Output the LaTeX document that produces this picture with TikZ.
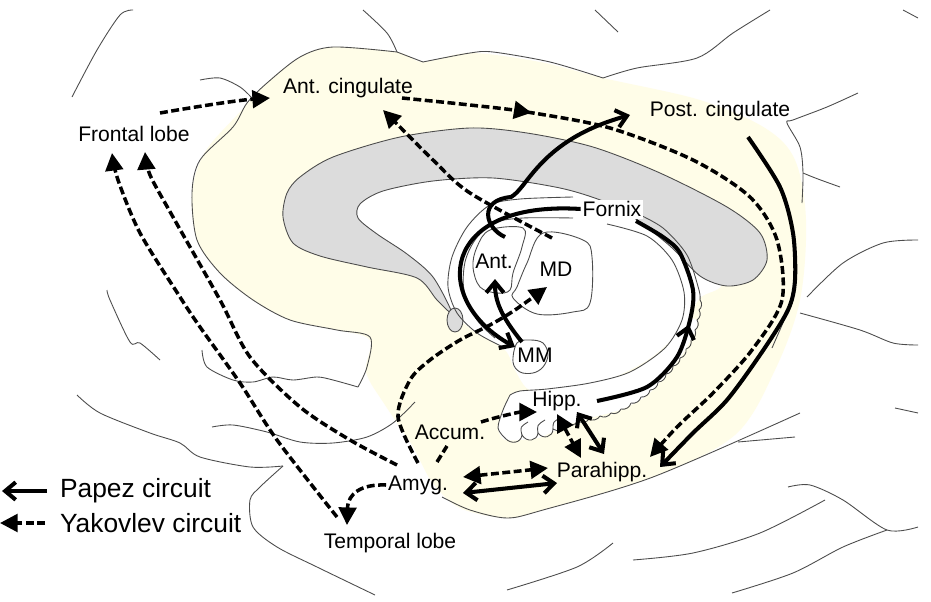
\documentclass[tikz,border=0pt]{standalone}
\usepackage{fontspec}
\setmainfont{Liberation Sans}
\usetikzlibrary{arrows.meta}
\usetikzlibrary{decorations.markings}
\usepackage{xcolor}
\definecolor{limbic}{RGB}{255,253,232}
\definecolor{callosum}{RGB}{220,220,220}

\begin{document}
\begin{tikzpicture}[x=0.02cm, y=-0.02cm,
  outline/.style={black!70, line width=0.5pt},
  papez/.style={line width=2.3pt, ->, >={Straight Barb[length=6pt,width=10pt]}},
  yakov/.style={line width=2pt, dash pattern=on 4.5pt off 2pt, ->, >={Triangle[length=10pt,width=10pt]}},
  midarrow/.style={postaction={decorate, decoration={markings, mark=at position #1 with {\arrow{>}}}}},
  lbl/.style={font=\fontsize{12}{14}\selectfont, inner sep=1pt},
  lgd/.style={font=\fontsize{15}{17}\selectfont, inner sep=1pt}]
\useasboundingbox (0,0) rectangle (931,602);
\fill[white] (0,0) rectangle (931,602);

\fill[limbic] plot[smooth cycle, tension=0.55] coordinates {(470,53) (423,62) (397,52) (333,47) (300,57) (267,83) (240,112) (205,152) (192,193) (197,240) (220,273) (253,300) (290,320) (337,330) (370,340) (366,372) (385,405) (412,445) (432,482) (460,508) (507,518) (543,510) (653,477) (735,435) (775,370) (800,300) (806,220) (795,160) (765,128) (700,100) (603,78) (540,62)};
\fill[white] plot[smooth cycle, tension=0.5] coordinates {(440,290) (452,312) (475,332) (505,350) (515,370) (530,390) (565,388) (612,378) (652,357) (682,328) (700,298) (722,284) (715,240) (600,195) (470,174) (380,186) (356,215) (400,255)};
\fill[white] plot[smooth cycle, tension=0.4] coordinates {(510,395) (520,391) (547,389) (590,383) (630,372) (665,348) (684,320) (697,320) (695,332) (682,355) (665,377) (645,397) (620,410) (590,418) (565,426) (538,438) (505,440) (498,428) (503,410)};
\filldraw[outline, fill=callosum] plot[smooth cycle, tension=0.5] coordinates {(452,313) (437,300) (417,278) (367,267) (320,256) (293,243) (283,217) (287,193) (300,177) (333,157) (400,137) (470,128) (527,133) (593,147) (660,173) (727,207) (760,233) (767,260) (753,280) (727,286) (700,276) (670,246) (630,215) (603,201) (560,188) (493,178) (433,181) (383,191) (360,204) (358,218) (377,234) (407,254) (433,277)};
\filldraw[outline, fill=callosum] (455,320) ellipse [x radius=8, y radius=12];

% gyri
\draw[outline] plot[smooth] coordinates {(133,10) (120,15) (97,50) (72,97)};
\draw[outline] plot[smooth] coordinates {(363,10) (387,33) (397,52)};
\draw[outline] plot[smooth] coordinates {(200,80) (220,78) (240,87) (252,98)};
\draw[outline] plot[smooth] coordinates {(595,10) (618,32)};
\draw[outline] plot[smooth] coordinates {(903,10) (918,18)};
\draw[outline] plot[smooth] coordinates {(858,93) (827,107) (793,120) (787,123) (800,147) (803,173) (802,203)};
\draw[outline] (803,173) .. controls (815,178) .. (840,187);
\draw[outline] plot[smooth] coordinates {(807,297) (843,263) (883,243) (918,240)};
\draw[outline] plot[smooth] coordinates {(800,313) (860,330) (893,343) (918,345)};
\draw[outline] (793,300) -- (772,348);
\draw[outline] (895,408) -- (918,413);
\draw[outline] (738,442) -- (795,437);
\draw[outline] plot[smooth] coordinates {(788,487) (810,485) (843,500) (887,530) (918,527)};
\draw[outline] plot[smooth] coordinates {(633,560) (693,553) (760,533) (825,500)};
\draw[outline] plot[smooth] coordinates {(507,590) (577,567) (613,543)};
\draw[outline] plot[smooth] coordinates {(732,593) (793,573) (843,547) (887,530)};
\draw[outline] plot[smooth] coordinates {(107,290) (110,300) (130,342) (140,343) (160,360)};
\draw[outline] plot[smooth] coordinates {(77,395) (100,413) (150,433) (180,443) (200,457) (250,467) (283,466)};
\draw[outline] plot[smooth] coordinates {(283,466) (260,487) (250,500) (253,527) (277,547) (317,567) (375,595)};
\draw[outline] plot[smooth] coordinates {(202,350) (207,367) (233,380) (253,382) (273,377) (293,380) (317,377) (333,380) (358,387)};
\draw[outline] plot[smooth] coordinates {(212,427) (233,425) (267,432) (300,442) (333,443) (367,437) (393,423) (415,402)};
\draw[outline] plot[smooth, tension=0.5] coordinates {(358,387) (367,367) (370,337) (337,330) (290,320) (253,300) (220,273) (197,240) (192,193) (200,160) (233,127) (247,103) (267,83) (300,57) (333,47) (397,52)};
\draw[outline] (397,52) -- (423,62);
\draw[outline] plot[smooth] coordinates {(423,62) (470,53) (493,52) (550,62) (603,78)};
\draw[outline] plot[smooth] coordinates {(603,78) (637,68) (697,58) (733,33) (770,10)};
\draw[outline] plot[smooth] coordinates {(442,497) (470,510) (507,518) (543,510) (653,477) (800,413)};

% fornix, hippocampus, thalamus
\draw[outline] plot[smooth] coordinates {(573,197) (520,199) (490,205) (467,227) (452,257) (448,287) (457,313) (477,333) (503,347)};
\draw[outline] plot[smooth] coordinates {(573,218) (523,218) (493,223) (475,240) (465,262) (464,290) (477,320) (495,338)};
\draw[outline] plot[smooth] coordinates {(636,213) (663,228) (687,255) (699,290) (700,300)};
\draw[outline] plot[smooth] coordinates {(607,224) (647,236) (672,260) (684,292) (682,320) (665,348) (630,372) (590,383) (547,389) (520,391) (510,395)};
\foreach \p/\q in {{700,300}/{699,310}, {699,310}/{697,320}, {697,320}/{695,330}, {695,330}/{691,340}, {691,340}/{686,349}, {686,349}/{680,358}, {680,358}/{673,366}, {673,366}/{666,374}, {666,374}/{658,382}, {658,382}/{650,390}, {650,390}/{641,397}, {641,397}/{631,403}, {631,403}/{621,409}, {621,409}/{611,413}, {611,413}/{600,416}, {600,416}/{589,419}, {589,419}/{578,421}, {578,421}/{566,424}}
  \draw[outline] (\p) to[bend left=45] (\q);
\draw[outline] plot[smooth] coordinates {(510,395) (503,410) (498,428) (505,438)};
\draw[outline] (505,438) .. controls (511,445) and (521,443) .. (522,435) .. controls (527,443) and (537,441) .. (538,433) .. controls (543,440) and (553,437) .. (553,429) .. controls (558,433) and (566,430) .. (566,424);
\draw[outline] (522,435) .. controls (520,427) .. (528,422);
\draw[outline] (538,433) .. controls (537,425) .. (545,420);
\draw[outline] (553,429) .. controls (553,422) .. (560,418);
\draw[outline] plot[smooth cycle, tension=0.6] coordinates {(490,230) (523,228) (522,247) (513,273) (510,290) (497,293) (480,287) (473,267) (477,247)};
\draw[outline] plot[smooth cycle, tension=0.6] coordinates {(543,233) (583,240) (592,257) (590,303) (573,312) (537,314) (513,298) (517,287) (527,263)};
\draw[outline] plot[smooth cycle, tension=0.6] coordinates {(517,343) (530,340) (543,343) (548,355) (543,367) (533,373) (520,372) (513,362)};

% labels
\node[lbl] (frontal) at (134,134) {Frontal lobe};
\node[lbl] (antcing) at (348,88) {Ant. cingulate};
\node[lbl] (postcing) at (720,111) {Post. cingulate};
\node[lbl, fill=white] (fornix) at (612,209) {Fornix};
\node[lbl] (ant) at (494,261) {Ant.};
\node[lbl] (md) at (556,269) {MD};
\node[lbl] (mm) at (535,355) {MM};
\node[lbl] (hipp) at (557,401) {Hipp.};
\node[lbl] (accum) at (450,432) {Accum.};
\node[lbl] (amyg) at (418,485) {Amyg.};
\node[lbl] (parahipp) at (602,472) {Parahipp.};
\node[lbl] (temporal) at (390,543) {Temporal lobe};
\node[lgd, anchor=west] (papezkey) at (58,491) {Papez circuit};
\node[lgd, anchor=west] (yakovkey) at (58,523) {Yakovlev circuit};

\coordinate (mmin) at (515,347);
\coordinate (antcurl) at (505,237);
\coordinate (pcin) at (630,115);
\coordinate (pcout) at (748,137);
\coordinate (phin) at (660,467);
\coordinate (hipout) at (597,401);
\coordinate (fxin) at (636,221);
\coordinate (mmout) at (522,342);
\coordinate (antin) at (495,279);
\coordinate (acout) at (402,98);
\coordinate (phin2) at (650,457);
\coordinate (flout) at (160,113);
\coordinate (acin) at (270,98);
\coordinate (mdout) at (552,238);
\coordinate (acin2) at (383,110);
\coordinate (amout1) at (418,463);
\coordinate (mdin) at (547,287);
\coordinate (tlout) at (337,517);
\coordinate (flin1) at (112,153);
\coordinate (amout2) at (397,465);
\coordinate (flin2) at (145,152);
\coordinate (tlin) at (347,525);
\coordinate (stub1) at (437,462);
\coordinate (stub2) at (447,446);
\coordinate (accout) at (481,422);
\coordinate (hipin) at (537,412);
\coordinate (amr1) at (463,477);
\coordinate (phl1) at (548,468);
\coordinate (amr2) at (463,493);
\coordinate (phl2) at (557,483);
\coordinate (hpb1) at (557,414);
\coordinate (pht1) at (581,458);
\coordinate (hpb2) at (577,412);
\coordinate (pht2) at (604,454);
\coordinate (pk) at (47,491);
\coordinate (pk0) at (2,491);
\coordinate (yk) at (45,523);
\coordinate (yk0) at (0,523);

% Papez circuit
\draw[papez] (fornix.west) .. controls (440,200) and (430,300) .. (mmin);
\draw[papez] (mmout) .. controls (500,315) and (495,300) .. (antin);
\draw[papez] (antcurl) .. controls (485,228) and (478,200) .. (511,197) .. controls (528,188) and (540,140) .. (pcin);
\draw[papez] plot[smooth] coordinates {(pcout) (780,187) (793,233) (795,280) (788,310) (762,352) (727,400) (693,433) (phin)};
\draw[papez, -, midarrow=0.5] plot[smooth] coordinates {(hipout) (647,387) (677,357) (690,320) (693,290) (680,253) (663,237) (fxin)};
\draw[papez, <->] (amr2) -- (phl2);
\draw[papez, <->] (hpb2) -- (pht2);
\draw[papez] (pk) -- (pk0);

% Yakovlev circuit
\draw[yakov] (flout) .. controls (200,106) and (240,100) .. (acin);
\draw[yakov, midarrow=0.19] plot[smooth] coordinates {(acout) (470,105) (527,112) (610,128) (693,160) (750,197) (777,240) (782,300) (752,350) (713,393) (677,427) (phin2)};
\draw[yakov] plot[smooth] coordinates {(mdout) (470,193) (433,160) (400,127) (acin2)};
\draw[yakov] plot[smooth] coordinates {(amout1) (398,417) (410,380) (430,360) (460,340) (490,325) (515,310) (mdin)};
\draw[yakov] plot[smooth] coordinates {(tlout) (277,440) (240,383) (200,327) (180,297) (140,233) (118,180) (flin1)};
\draw[yakov] plot[smooth] coordinates {(amout2) (350,440) (300,407) (250,357) (220,300) (173,217) (150,175) (flin2)};
\draw[yakov] (amyg.west) .. controls (362,484) and (348,493) .. (tlin);
\draw[yakov, -] (stub1) -- (stub2);
\draw[yakov] (accout) .. controls (500,416) and (520,412) .. (hipin);
\draw[yakov, <->] (amr1) -- (phl1);
\draw[yakov, <->] (hpb1) -- (pht1);
\draw[yakov] (yk) -- (yk0);
\end{tikzpicture}
\end{document}
